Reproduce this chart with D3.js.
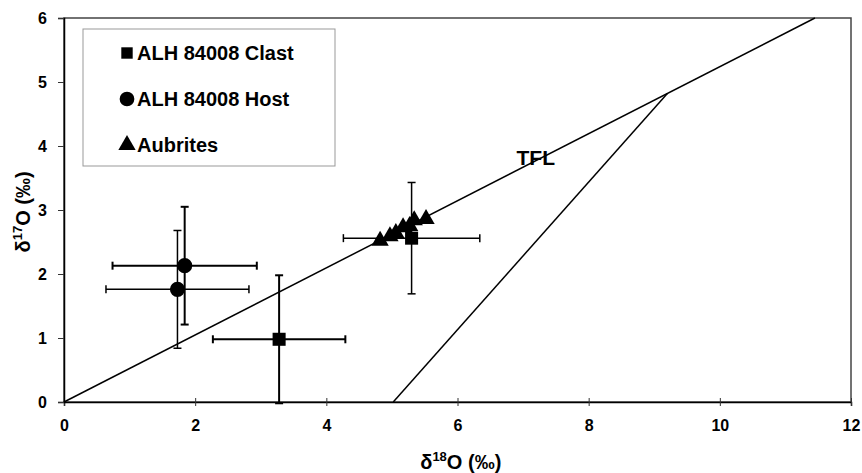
<!DOCTYPE html>
<html>
<head>
<meta charset="utf-8">
<script src="https://cdn.jsdelivr.net/npm/d3@7"></script>
<style>
  body { margin: 0; background: #fff; }
  svg { font-family: "Liberation Sans", Arial, sans-serif; font-weight: bold; }
</style>
</head>
<body>
<svg id="chart" width="862" height="473"></svg>
<script>
// ALH 84008 clast: d18O, d17O, x error, y error
var clastX = [3.28, 5.30];
var clastY = [0.98, 2.56];
var clastXErr = [1.01, 1.04];
var clastYErr = [1.00, 0.87];

// ALH 84008 host
var hostX = [1.73, 1.84];
var hostY = [1.76, 2.13];
var hostXErr = [1.09, 1.10];
var hostYErr = [0.92, 0.92];

// aubrites
var aubX = [4.82, 4.97, 5.06, 5.17, 5.27, 5.34, 5.52];
var aubY = [2.52, 2.59, 2.64, 2.73, 2.75, 2.84, 2.86];

// terrestrial fractionation line and the mixing line
var tflX = [0, 11.45];
var tflY = [0, 6];
var mixX = [5.02, 9.2];
var mixY = [0, 4.82];

var xTicks = [0, 2, 4, 6, 8, 10, 12];
var yTicks = [0, 1, 2, 3, 4, 5, 6];
var legendLabels = ["ALH 84008 Clast", "ALH 84008 Host", "Aubrites"];

var margin = { top: 18, right: 11, bottom: 71, left: 64 };
var svg = d3.select("#chart");
var width = +svg.attr("width") - margin.left - margin.right;
var height = +svg.attr("height") - margin.top - margin.bottom;
var g = svg.append("g").attr("transform", "translate(" + margin.left + "," + margin.top + ")");

var x = d3.scaleLinear().domain([0, 12]).range([0, width]);
var y = d3.scaleLinear().domain([0, 6]).range([height, 0]);

// frame
g.append("rect")
    .attr("width", width).attr("height", height)
    .attr("fill", "none").attr("stroke", "#444").attr("stroke-width", 1.5);

// axes
var xAxis = g.append("g")
    .attr("transform", "translate(0," + height + ")")
    .call(d3.axisBottom(x).tickValues(xTicks).tickFormat(d3.format("d")).tickSize(4).tickPadding(14));
xAxis.selectAll(".tick line").attr("y1", -4);
var yAxis = g.append("g")
    .call(d3.axisLeft(y).tickValues(yTicks).tickFormat(d3.format("d")).tickSize(6).tickPadding(11));
g.selectAll(".domain").attr("stroke", "#000").attr("stroke-width", 1.5);
g.selectAll(".tick line").attr("stroke", "#333");
g.selectAll(".tick text")
    .attr("font-size", 16).attr("font-weight", "bold")
    .attr("font-family", "Liberation Sans, Arial, sans-serif").attr("fill", "#000");

// lines
var line = d3.line().x(function (d) { return x(d[0]); }).y(function (d) { return y(d[1]); });
g.append("path").attr("d", line(d3.zip(tflX, tflY)))
    .attr("fill", "none").attr("stroke", "#000").attr("stroke-width", 1.5);
g.append("path").attr("d", line(d3.zip(mixX, mixY)))
    .attr("fill", "none").attr("stroke", "#000").attr("stroke-width", 1.5);

g.append("text")
    .attr("x", x(6.9)).attr("y", y(3.7))
    .attr("font-size", 21)
    .text("TFL");

// error bars
function errorBars(xs, ys, xe, ye, w) {
    var cap = 4;
    xs.forEach(function (v, i) {
        var px = x(v), py = y(ys[i]);
        var x0 = x(v - xe[i]), x1 = x(v + xe[i]);
        var y0 = y(ys[i] - ye[i]), y1 = y(ys[i] + ye[i]);
        var eb = g.append("g").attr("stroke", "#000").attr("stroke-width", w[i]);
        eb.append("line").attr("x1", x0).attr("x2", x1).attr("y1", py).attr("y2", py);
        eb.append("line").attr("x1", x0).attr("x2", x0).attr("y1", py - cap).attr("y2", py + cap);
        eb.append("line").attr("x1", x1).attr("x2", x1).attr("y1", py - cap).attr("y2", py + cap);
        eb.append("line").attr("x1", px).attr("x2", px).attr("y1", y0).attr("y2", y1);
        eb.append("line").attr("x1", px - cap).attr("x2", px + cap).attr("y1", y0).attr("y2", y0);
        eb.append("line").attr("x1", px - cap).attr("x2", px + cap).attr("y1", y1).attr("y2", y1);
    });
}
errorBars(clastX, clastY, clastXErr, clastYErr, [2, 1.5]);
errorBars(hostX, hostY, hostXErr, hostYErr, [1.5, 2]);

// markers
var sqSym = d3.symbol().type(d3.symbolSquare).size(170);
var ciSym = d3.symbol().type(d3.symbolCircle).size(180);
var trSym = d3.symbol().type(d3.symbolTriangle).size(130);

g.selectAll(".aub").data(d3.zip(aubX, aubY)).enter().append("path")
    .attr("class", "aub")
    .attr("transform", function (d) { return "translate(" + x(d[0]) + "," + y(d[1]) + ")"; })
    .attr("d", trSym).attr("fill", "#000");
g.selectAll(".clast").data(d3.zip(clastX, clastY)).enter().append("path")
    .attr("class", "clast")
    .attr("transform", function (d) { return "translate(" + x(d[0]) + "," + y(d[1]) + ")"; })
    .attr("d", sqSym).attr("fill", "#000");
g.selectAll(".host").data(d3.zip(hostX, hostY)).enter().append("path")
    .attr("class", "host")
    .attr("transform", function (d) { return "translate(" + x(d[0]) + "," + y(d[1]) + ")"; })
    .attr("d", ciSym).attr("fill", "#000");

// legend
var legend = svg.append("g").attr("transform", "translate(83,29)");
legend.append("rect")
    .attr("width", 252).attr("height", 137)
    .attr("fill", "#fff").attr("stroke", "#999").attr("stroke-width", 1);
var syms = [d3.symbol().type(d3.symbolSquare).size(130),
            d3.symbol().type(d3.symbolCircle).size(170),
            d3.symbol().type(d3.symbolTriangle).size(130)];
legendLabels.forEach(function (lab, i) {
    var ly = 24 + i * 46;
    legend.append("path")
        .attr("transform", "translate(44," + ly + ")")
        .attr("d", syms[i]).attr("fill", "#000");
    legend.append("text")
        .attr("x", 54).attr("y", ly + 7)
        .attr("font-size", 20)
        .text(lab);
});

// axis titles
var xt = svg.append("text")
    .attr("x", margin.left + x(6.05)).attr("y", 469)
    .attr("text-anchor", "middle").attr("font-size", 20);
xt.append("tspan").text("δ");
xt.append("tspan").attr("font-size", 13).attr("dy", -8).text("18");
xt.append("tspan").attr("dy", 8).text("O (‰)");

var yt = svg.append("text")
    .attr("transform", "translate(30," + (margin.top + y(2.97)) + ") rotate(-90)")
    .attr("text-anchor", "middle").attr("font-size", 20);
yt.append("tspan").text("δ");
yt.append("tspan").attr("font-size", 13).attr("dy", -8).text("17");
yt.append("tspan").attr("dy", 8).text("O (‰)");
</script>
</body>
</html>
